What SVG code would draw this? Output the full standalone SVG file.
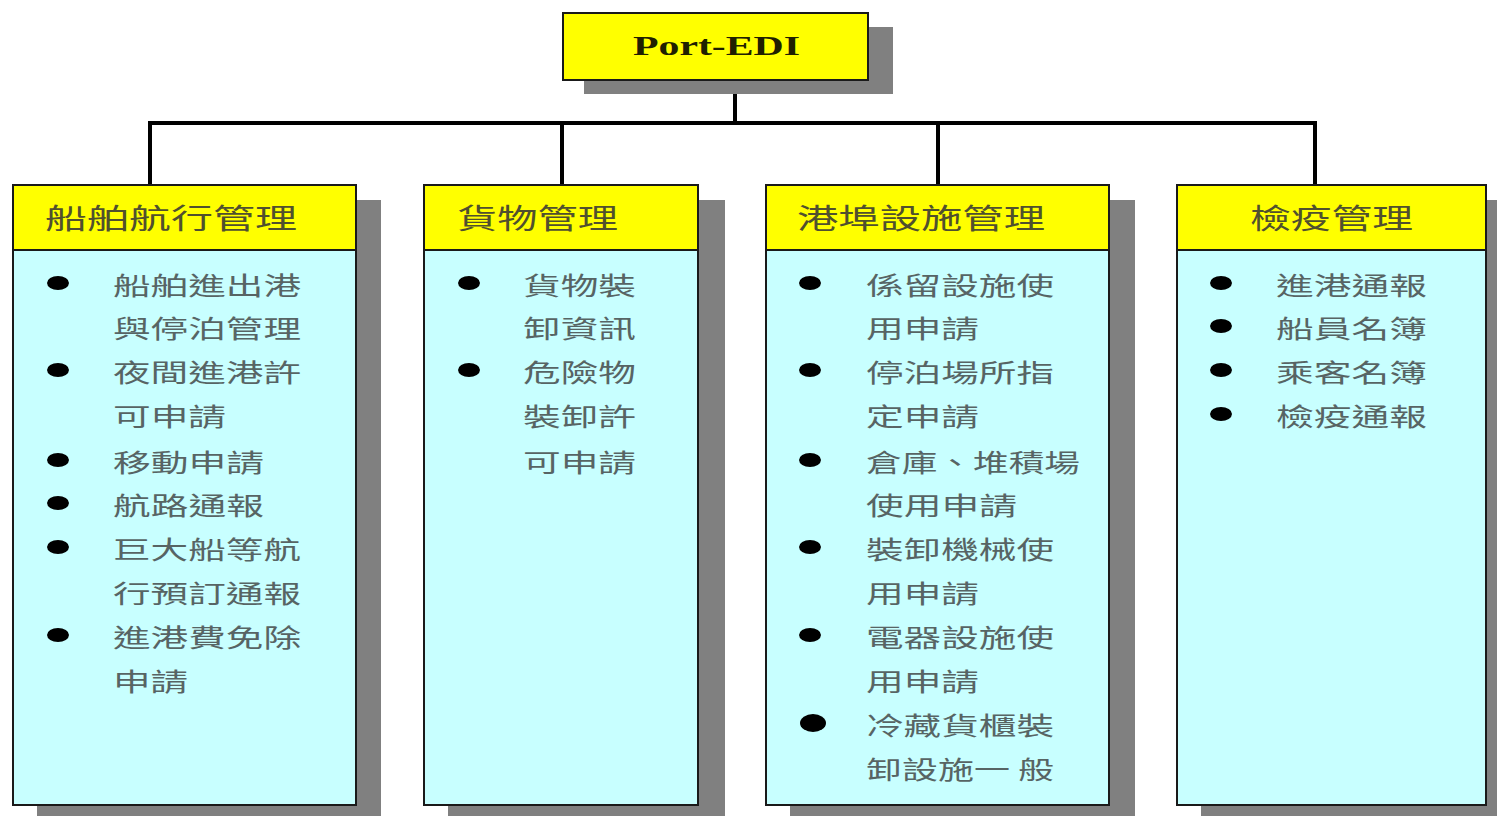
<svg xmlns="http://www.w3.org/2000/svg" width="1497" height="816" viewBox="0 0 1497 816">
<style>
.sh{fill:#808080}
.hd{fill:#ffff00;stroke:#1a1a1a;stroke-width:2}
.bd{fill:#c8ffff;stroke:#1a1a1a;stroke-width:2}
.ht{font-family:"Noto Sans CJK TC","Noto Sans CJK SC",sans-serif;font-size:28px;fill:#50502e;dominant-baseline:central}
.it{font-family:"Noto Sans CJK TC","Noto Sans CJK SC",sans-serif;font-size:25px;fill:#576464;dominant-baseline:central}
.bl{fill:#000}
.cn{stroke:#000;stroke-width:4;fill:none}
</style>
<rect x="0" y="0" width="1497" height="816" fill="#fff"/>
<g id="connectors">
<path class="cn" d="M735 80V123M150 123H1315M150 121V187M562 121V187M938 121V187M1315 121V187"/>
</g>
<g id="root">
<rect class="sh" x="584" y="27" width="309" height="67"/>
<rect class="hd" x="563" y="13" width="305" height="67"/>
<text x="633" y="46" font-family="Liberation Serif, serif" font-size="27" font-weight="bold" fill="#202000" textLength="167" lengthAdjust="spacingAndGlyphs" dominant-baseline="central">Port-EDI</text>
</g>
<g id="ship">
<rect class="sh" x="37" y="200" width="344" height="616"/>
<rect class="hd" x="13" y="185" width="343" height="65"/>
<rect class="bd" x="13" y="250" width="343" height="555"/>
<text class="ht" x="45" y="217" textLength="252" lengthAdjust="spacingAndGlyphs">船舶航行管理</text>
<ellipse class="bl" cx="58" cy="283" rx="11" ry="7"/>
<ellipse class="bl" cx="58" cy="370" rx="11" ry="7"/>
<ellipse class="bl" cx="58" cy="460" rx="11" ry="7"/>
<ellipse class="bl" cx="58" cy="503" rx="11" ry="7"/>
<ellipse class="bl" cx="58" cy="547" rx="11" ry="7"/>
<ellipse class="bl" cx="58" cy="635" rx="11" ry="7"/>
<text class="it" x="113" y="284" textLength="188" lengthAdjust="spacingAndGlyphs">船舶進出港</text>
<text class="it" x="113" y="327" textLength="188" lengthAdjust="spacingAndGlyphs">與停泊管理</text>
<text class="it" x="113" y="371" textLength="188" lengthAdjust="spacingAndGlyphs">夜間進港許</text>
<text class="it" x="113" y="415" textLength="113" lengthAdjust="spacingAndGlyphs">可申請</text>
<text class="it" x="113" y="461" textLength="151" lengthAdjust="spacingAndGlyphs">移動申請</text>
<text class="it" x="113" y="504" textLength="151" lengthAdjust="spacingAndGlyphs">航路通報</text>
<text class="it" x="113" y="548" textLength="188" lengthAdjust="spacingAndGlyphs">巨大船等航</text>
<text class="it" x="113" y="592" textLength="188" lengthAdjust="spacingAndGlyphs">行預訂通報</text>
<text class="it" x="113" y="636" textLength="188" lengthAdjust="spacingAndGlyphs">進港費免除</text>
<text class="it" x="113" y="680" textLength="75" lengthAdjust="spacingAndGlyphs">申請</text>
</g>
<g id="cargo">
<rect class="sh" x="448" y="200" width="277" height="616"/>
<rect class="hd" x="424" y="185" width="274" height="65"/>
<rect class="bd" x="424" y="250" width="274" height="555"/>
<text class="ht" x="457" y="217" textLength="161" lengthAdjust="spacingAndGlyphs">貨物管理</text>
<ellipse class="bl" cx="469" cy="283" rx="11" ry="7"/>
<ellipse class="bl" cx="469" cy="370" rx="11" ry="7"/>
<text class="it" x="523" y="284" textLength="113" lengthAdjust="spacingAndGlyphs">貨物裝</text>
<text class="it" x="523" y="327" textLength="113" lengthAdjust="spacingAndGlyphs">卸資訊</text>
<text class="it" x="523" y="371" textLength="113" lengthAdjust="spacingAndGlyphs">危險物</text>
<text class="it" x="523" y="415" textLength="113" lengthAdjust="spacingAndGlyphs">裝卸許</text>
<text class="it" x="523" y="461" textLength="113" lengthAdjust="spacingAndGlyphs">可申請</text>
</g>
<g id="port">
<rect class="sh" x="790" y="200" width="345" height="616"/>
<rect class="hd" x="766" y="185" width="343" height="65"/>
<rect class="bd" x="766" y="250" width="343" height="555"/>
<text class="ht" x="797" y="217" textLength="248" lengthAdjust="spacingAndGlyphs">港埠設施管理</text>
<ellipse class="bl" cx="810" cy="283" rx="11" ry="7"/>
<ellipse class="bl" cx="810" cy="370" rx="11" ry="7"/>
<ellipse class="bl" cx="810" cy="460" rx="11" ry="7"/>
<ellipse class="bl" cx="810" cy="547" rx="11" ry="7"/>
<ellipse class="bl" cx="810" cy="635" rx="11" ry="7"/>
<ellipse class="bl" cx="813" cy="723" rx="13" ry="9"/>
<text class="it" x="866" y="284" textLength="188" lengthAdjust="spacingAndGlyphs">係留設施使</text>
<text class="it" x="866" y="327" textLength="113" lengthAdjust="spacingAndGlyphs">用申請</text>
<text class="it" x="866" y="371" textLength="188" lengthAdjust="spacingAndGlyphs">停泊場所指</text>
<text class="it" x="866" y="415" textLength="113" lengthAdjust="spacingAndGlyphs">定申請</text>
<text class="it" x="866" y="461" textLength="214" lengthAdjust="spacingAndGlyphs">倉庫、堆積場</text>
<text class="it" x="866" y="504" textLength="151" lengthAdjust="spacingAndGlyphs">使用申請</text>
<text class="it" x="866" y="548" textLength="188" lengthAdjust="spacingAndGlyphs">裝卸機械使</text>
<text class="it" x="866" y="592" textLength="113" lengthAdjust="spacingAndGlyphs">用申請</text>
<text class="it" x="866" y="636" textLength="188" lengthAdjust="spacingAndGlyphs">電器設施使</text>
<text class="it" x="866" y="680" textLength="113" lengthAdjust="spacingAndGlyphs">用申請</text>
<text class="it" x="866" y="724" textLength="188" lengthAdjust="spacingAndGlyphs">冷藏貨櫃裝</text>
<text class="it" x="866" y="768" textLength="188" lengthAdjust="spacingAndGlyphs" xml:space="preserve">卸設施一 般</text>
</g>
<g id="quarantine">
<rect class="sh" x="1201" y="200" width="296" height="616"/>
<rect class="hd" x="1177" y="185" width="309" height="65"/>
<rect class="bd" x="1177" y="250" width="309" height="555"/>
<text class="ht" x="1250" y="217" textLength="163" lengthAdjust="spacingAndGlyphs">檢疫管理</text>
<ellipse class="bl" cx="1221" cy="283" rx="11" ry="7"/>
<ellipse class="bl" cx="1221" cy="326" rx="11" ry="7"/>
<ellipse class="bl" cx="1221" cy="370" rx="11" ry="7"/>
<ellipse class="bl" cx="1221" cy="414" rx="11" ry="7"/>
<text class="it" x="1276" y="284" textLength="151" lengthAdjust="spacingAndGlyphs">進港通報</text>
<text class="it" x="1276" y="327" textLength="151" lengthAdjust="spacingAndGlyphs">船員名簿</text>
<text class="it" x="1276" y="371" textLength="151" lengthAdjust="spacingAndGlyphs">乘客名簿</text>
<text class="it" x="1276" y="415" textLength="151" lengthAdjust="spacingAndGlyphs">檢疫通報</text>
</g>
</svg>
